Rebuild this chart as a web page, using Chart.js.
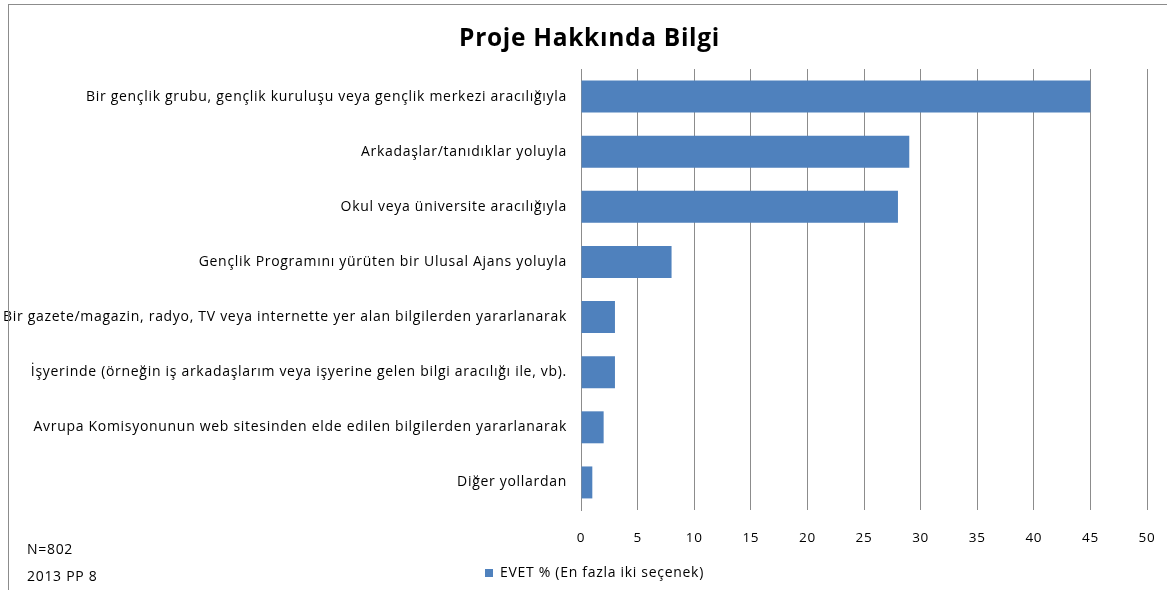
<!DOCTYPE html>
<html><head><meta charset="utf-8">
<script src="https://cdn.jsdelivr.net/npm/chart.js@4"></script>
<style>
html,body{margin:0;padding:0;background:#fff;}
#wrap{position:absolute;left:0;top:0;width:1167px;height:590px;}
#frame{position:absolute;left:8px;top:4px;width:1160px;height:600px;border:1.5px solid #8c8c8c;box-sizing:border-box;pointer-events:none;}
.note{position:absolute;left:27px;font-family:"Open Sans","Liberation Sans",sans-serif;font-size:14px;color:#000;letter-spacing:0.7px;}
</style></head>
<body>
<div id="wrap">
<canvas id="c" width="1167" height="590"></canvas>
<div id="frame"></div>
<div class="note" style="top:539px">N=802</div>
<div class="note" style="top:566px">2013 PP 8</div>
</div>
<script>
const categories = [
 "Bir gençlik grubu, gençlik kuruluşu veya gençlik merkezi aracılığıyla",
 "Arkadaşlar/tanıdıklar yoluyla",
 "Okul veya üniversite aracılığıyla",
 "Gençlik Programını yürüten bir Ulusal Ajans yoluyla",
 "Bir gazete/magazin, radyo, TV veya internette yer alan bilgilerden yararlanarak",
 "İşyerinde (örneğin iş arkadaşlarım veya işyerine gelen bilgi aracılığı ile, vb).",
 "Avrupa Komisyonunun web sitesinden elde edilen bilgilerden yararlanarak",
 "Diğer yollardan"
];
const seriesName = "EVET % (En fazla iki seçenek)";
const values = [45, 29, 28, 8, 3, 3, 2, 1];
const xTicks = [0, 5, 10, 15, 20, 25, 30, 35, 40, 45, 50];
const titleText = "Proje Hakkında Bilgi";

const FONT = '"Open Sans", "Liberation Sans", sans-serif';
const AREA = { left: 581, right: 1147, top: 69, bottom: 510 };
let xShrink = 0;
const tweaks = {
  id: 'tweaks',
  beforeUpdate(chart) { chart.ctx.letterSpacing = '0.7px'; },
  beforeLayout(chart) { chart.ctx.letterSpacing = '0.7px'; },
  afterLayout(chart) {
    if (chart.legend) { chart.legend.left += 11; chart.legend.right += 11; }
    if (chart.titleBlock) { chart.titleBlock.left += 6; chart.titleBlock.right += 6; }
  },
  beforeDraw(chart) { chart.ctx.letterSpacing = '0.7px'; }
};
const chart = new Chart(document.getElementById('c'), {
  type: 'bar',
  plugins: [tweaks],
  data: {
    labels: categories,
    datasets: [{
      label: seriesName,
      data: values,
      backgroundColor: '#4f81bd',
      borderWidth: 0,
      categoryPercentage: 1,
      barPercentage: 0.58
    }]
  },
  options: {
    indexAxis: 'y',
    responsive: false,
    animation: false,
    layout: { padding: { left: 0, right: 0, top: 0, bottom: 0 } },
    plugins: {
      title: {
        display: true, text: titleText, color: '#000',
        font: { family: FONT, size: 24.5, weight: 'bold' },
        padding: { top: 24, bottom: 13 }
      },
      legend: {
        position: 'bottom',
        labels: {
          color: '#000', boxWidth: 8, boxHeight: 8,
          font: { family: FONT, size: 14 }, padding: 7
        }
      },
      tooltip: { enabled: false }
    },
    scales: {
      x: {
        min: 0, max: 50,
        afterBuildTicks: s => { s.ticks = xTicks.map(v => ({ value: v })); },
        grid: { color: '#8c8c8c', drawTicks: false, lineWidth: 1 },
        border: { display: false },
        ticks: { color: '#000', font: { family: FONT, size: 13.5 }, padding: 20 },
        afterFit: s => { s.paddingLeft = 0; s.paddingRight = 1167 - AREA.right; s.height -= xShrink; }
      },
      y: {
        grid: { display: false, drawTicks: false },
        border: { display: true, color: '#8c8c8c' },
        ticks: { color: '#000', font: { family: FONT, size: 14 }, padding: 14, autoSkip: false },
        afterFit: s => { s.width = AREA.left; s.paddingTop = 0; s.paddingBottom = 0; }
      }
    }
  }
});
// fine-tune so the plot area lands where the reference has it
const ca = chart.chartArea;
xShrink = AREA.bottom - ca.bottom;
chart.options.plugins.title.padding.bottom += AREA.top - ca.top;
chart.update();
</script>
</body></html>
